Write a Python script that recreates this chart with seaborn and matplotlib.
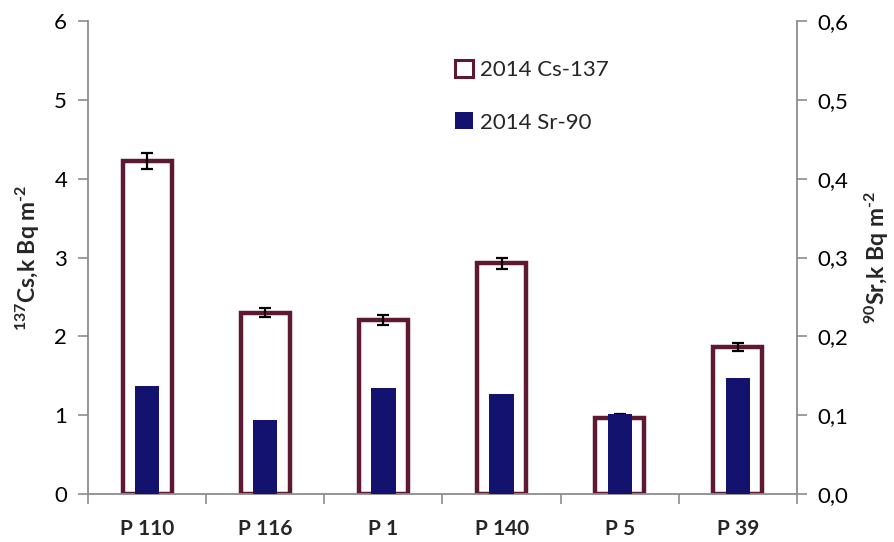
import numpy as np
import pandas as pd
import matplotlib
matplotlib.use("Agg")
import matplotlib.pyplot as plt
from matplotlib.ticker import FuncFormatter, MultipleLocator
import seaborn as sns

# Sampling plots
plots = ["P 110", "P 116", "P 1", "P 140", "P 5", "P 39"]
# 137Cs inventory, kBq m-2, with measurement uncertainty
cs137 = [4.23, 2.30, 2.21, 2.93, 0.97, 1.87]
cs137_err = [0.10, 0.06, 0.06, 0.07, 0.04, 0.05]
# 90Sr inventory, kBq m-2
sr90 = [0.137, 0.094, 0.135, 0.127, 0.101, 0.147]

cs_label = "2014 Cs-137"
sr_label = "2014 Sr-90"

maroon = "#5E1832"
navy = "#13136F"
grey = "#8C8C8C"

sns.set_theme(style="white")
plt.rcParams["font.family"] = ["Lato", "DejaVu Sans"]
plt.rcParams["mathtext.fontset"] = "custom"
plt.rcParams["mathtext.bf"] = "Lato:bold"
plt.rcParams["mathtext.rm"] = "Lato:bold"
plt.rcParams["mathtext.it"] = "Lato:bold"
plt.rcParams["mathtext.default"] = "bf"

df = pd.DataFrame({"plot": plots, "cs": cs137, "cs_err": cs137_err, "sr": sr90})

fig = plt.figure(figsize=(8.95, 5.42), dpi=100)
ax = fig.add_axes([0.0983, 0.0886, 0.7922, 0.8724])
ax2 = ax.twinx()

sns.barplot(data=df, x="plot", y="cs", ax=ax, width=0.415, color="white",
            edgecolor=maroon, linewidth=3.2, errorbar=None, label=cs_label)
ax.errorbar(np.arange(len(plots)), df["cs"], yerr=df["cs_err"], fmt="none",
            ecolor="black", elinewidth=1.6, capsize=4.5, capthick=1.6, zorder=5)

sns.barplot(data=df, x="plot", y="sr", ax=ax2, width=0.205, color=navy,
            saturation=1, errorbar=None, label=sr_label, linewidth=0)

ax.set_xlim(-0.5, len(plots) - 0.5)
ax.set_ylim(0, 6)
ax2.set_ylim(0, 0.6)
ax.yaxis.set_major_locator(MultipleLocator(1))
ax2.yaxis.set_major_locator(MultipleLocator(0.1))
ax2.yaxis.set_major_formatter(FuncFormatter(lambda v, p: f"{v:.1f}".replace(".", ",")))

ax.set_xlabel("")
ax.set_ylabel(r"$^{137}$Cs,k Bq m$^{\text{-}2}$", fontsize=16.5, fontweight="bold", labelpad=9)
ax2.set_ylabel(r"$^{90}$Sr,k Bq m$^{\text{-}2}$", fontsize=16.5, fontweight="bold", labelpad=10)

for a in (ax, ax2):
    a.spines["top"].set_visible(False)
    for side in ("left", "right", "bottom"):
        a.spines[side].set_color(grey)
        a.spines[side].set_linewidth(1.3)
ax2.spines["left"].set_visible(False)
ax.spines["right"].set_visible(False)
ax2.spines["bottom"].set_visible(False)

ax.tick_params(axis="y", which="major", direction="out", length=7, width=1.2,
               color=grey, labelsize=16, labelcolor="black", left=True, pad=8)
ax2.tick_params(axis="y", which="major", direction="out", length=7, width=1.2,
                color=grey, labelsize=16, labelcolor="black", right=True, pad=8)
ax.set_xticks(np.arange(-0.5, len(plots), 1.0), minor=True)
ax.tick_params(axis="x", which="major", length=0, labelsize=15, pad=18)
ax.tick_params(axis="x", which="minor", direction="out", length=7, width=1.2,
               color=grey, bottom=True)
for lbl in ax.get_xticklabels():
    lbl.set_fontweight("bold")

h1, l1 = ax.get_legend_handles_labels()
h2, l2 = ax2.get_legend_handles_labels()
if ax.get_legend() is not None:
    ax.get_legend().remove()
leg = ax2.legend(h1 + h2, l1 + l2, loc="upper left", bbox_to_anchor=(0.49, 0.96),
                 frameon=False, fontsize=16, handlelength=0.8, handleheight=0.8,
                 handletextpad=0.3, labelspacing=1.45)
leg.legend_handles[0].set_linewidth(2.2)

fig.savefig("out.png", dpi=100)
